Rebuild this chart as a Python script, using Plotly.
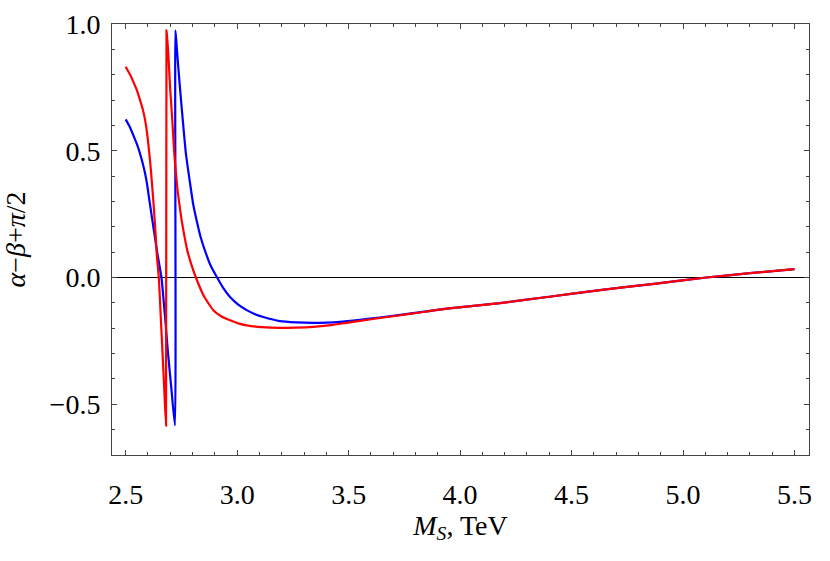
import plotly.graph_objects as go

# Red curve
red_x = [2.500, 2.520, 2.534, 2.550, 2.564, 2.577, 2.587, 2.597, 2.606, 2.613, 2.619, 2.625, 2.630, 2.635,
         2.639, 2.644, 2.649, 2.657, 2.665, 2.673, 2.681, 2.683, 2.687, 2.691, 2.699, 2.709, 2.718,
         2.731, 2.741, 2.751, 2.763, 2.776, 2.795, 2.815, 2.850, 2.893, 2.930, 2.968, 3.005, 3.043, 3.110,
         3.192, 3.260, 3.341, 3.420, 3.491, 3.560, 3.640, 3.790, 3.940, 4.179, 4.400, 4.627, 4.870,
         5.105, 5.300, 5.500]
red_y = [0.832, 0.800, 0.773, 0.739, 0.701, 0.662, 0.622, 0.562, 0.490, 0.425, 0.358, 0.290, 0.226, 0.160,
         0.095, 0.045, -0.004, -0.150, -0.294, -0.440, -0.585, 0.975, 0.935, 0.885, 0.753, 0.622, 0.490,
         0.358, 0.288, 0.226, 0.165, 0.108, 0.050, 0.000, -0.072, -0.129, -0.154, -0.169, -0.181, -0.189, -0.196,
         -0.199, -0.198, -0.195, -0.188, -0.179, -0.170, -0.160, -0.142, -0.123, -0.101, -0.076, -0.050, -0.025,
         0.000, 0.017, 0.033]

# Blue curve
blue_x = [2.500, 2.518, 2.534, 2.550, 2.564, 2.576, 2.587, 2.597, 2.606, 2.615, 2.624, 2.633, 2.642, 2.652,
          2.661, 2.676, 2.690, 2.705, 2.721, 2.723, 2.727, 2.731, 2.743, 2.756, 2.770, 2.791, 2.803,
          2.818, 2.836, 2.858, 2.882, 2.910, 2.938, 2.968, 3.005, 3.043, 3.080, 3.117, 3.192, 3.265,
          3.341, 3.400, 3.461, 3.550, 3.640, 3.790, 3.940, 4.179, 4.400, 4.627, 4.870, 5.105, 5.300, 5.500]
blue_y = [0.624, 0.595, 0.562, 0.527, 0.490, 0.452, 0.411, 0.362, 0.306, 0.253, 0.200, 0.148, 0.095, 0.045,
          -0.004, -0.150, -0.300, -0.440, -0.584, 0.975, 0.935, 0.885, 0.753, 0.622, 0.490, 0.358, 0.288,
          0.226, 0.160, 0.100, 0.045, 0.000, -0.042, -0.077, -0.107, -0.129, -0.145, -0.156, -0.172, -0.177,
          -0.179, -0.178, -0.175, -0.167, -0.158, -0.141, -0.123, -0.101, -0.076, -0.050, -0.025, 0.000, 0.017, 0.033]

x_ticks = [2.5, 3.0, 3.5, 4.0, 4.5, 5.0, 5.5]
x_tick_labels = ["2.5", "3.0", "3.5", "4.0", "4.5", "5.0", "5.5"]
y_ticks = [-0.5, 0.0, 0.5, 1.0]
y_tick_labels = ["\u22120.5", "0.0", "0.5", "1.0"]

FONT = "Liberation Serif, Times New Roman, serif"
FRAME = "#444444"

fig = go.Figure()
fig.add_trace(go.Scatter(x=blue_x, y=blue_y, mode="lines",
                         line=dict(color="#0000ff", width=2.2, shape="spline", smoothing=0.5),
                         showlegend=False))
fig.add_trace(go.Scatter(x=red_x, y=red_y, mode="lines",
                         line=dict(color="#ff0000", width=2.2, shape="spline", smoothing=0.5),
                         showlegend=False))

axis_common = dict(
    showline=True, linecolor=FRAME, linewidth=1, mirror="allticks",
    ticks="inside", ticklen=5, tickcolor=FRAME, tickwidth=1,
    showgrid=False, automargin=False,
    tickfont=dict(family=FONT, size=28, color="#000000"),
)

fig.update_layout(
    width=830, height=561,
    margin=dict(l=112, r=21, t=24, b=106),
    paper_bgcolor="white", plot_bgcolor="white",
    font=dict(family=FONT, color="#000000"),
    xaxis=dict(
        range=[2.4386, 5.565], tickmode="array", tickvals=x_ticks, ticktext=x_tick_labels,
        zeroline=False, ticklabelstandoff=14,
        minor=dict(dtick=0.1, tick0=2.5, ticks="inside", ticklen=3, tickcolor=FRAME, showgrid=False),
        title=dict(text="<i>M</i><sub><i>S</i></sub>, TeV", font=dict(family=FONT, size=28), standoff=2),
        **axis_common,
    ),
    yaxis=dict(
        range=[-0.7006, 1.0004], tickmode="array", tickvals=y_ticks, ticktext=y_tick_labels,
        zeroline=True, zerolinecolor="#000000", zerolinewidth=1, ticklabelstandoff=5,
        minor=dict(dtick=0.1, tick0=0.0, ticks="inside", ticklen=3, tickcolor=FRAME, showgrid=False),
        title=dict(text="<i>\u03b1</i>\u2212<i>\u03b2</i>+<i>\u03c0</i>/2", font=dict(family=FONT, size=28), standoff=26),
        **axis_common,
    ),
)

fig.write_html("out.html", config={"displayModeBar": False},
               post_script="document.body.style.margin='0px';")
